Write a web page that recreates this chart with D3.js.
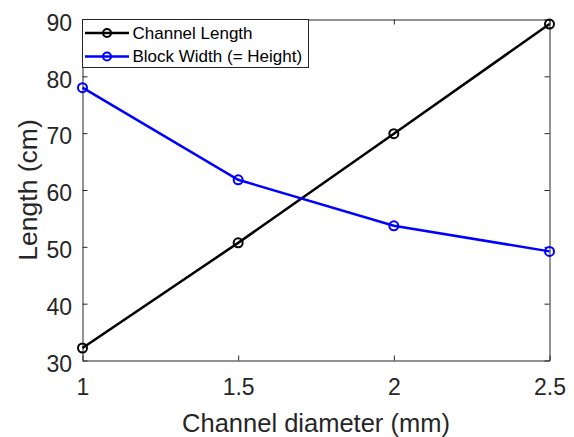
<!DOCTYPE html>
<html>
<head>
<meta charset="utf-8">
<script src="https://cdn.jsdelivr.net/npm/d3@7"></script>
<style>
html,body{margin:0;padding:0;background:#fff;}
svg{display:block;font-family:Arial,"Liberation Sans",sans-serif;}
</style>
</head>
<body>
<svg id="chart" width="574" height="437"></svg>
<script>
const diameters = [1, 1.5, 2, 2.5];
const channelLength = [32.2, 50.7, 69.9, 89.2];
const blockWidth = [78.0, 61.8, 53.7, 49.2];
const xTicks = [1, 1.5, 2, 2.5];
const yTicks = [30, 40, 50, 60, 70, 80, 90];
const seriesNames = ["Channel Length", "Block Width (= Height)"];
const seriesColors = ["#000000", "#0000ff"];

const svg = d3.select("#chart");
const m = {left: 82.5, right: 549.5, top: 19.5, bottom: 360.5};
const x = d3.scaleLinear().domain([1, 2.5]).range([m.left, m.right]);
const y = d3.scaleLinear().domain([30, 90]).range([m.bottom, m.top]);
const axisColor = "#262626";
const fontFam = "Arial, 'Liberation Sans', sans-serif";

// axes
const gx = svg.append("g").attr("transform", `translate(0,${m.bottom})`)
  .call(d3.axisBottom(x).tickValues(xTicks).tickSizeInner(-5).tickSizeOuter(0).tickFormat(d3.format("")));
const gxt = svg.append("g").attr("transform", `translate(0,${m.top})`)
  .call(d3.axisTop(x).tickValues(xTicks).tickSizeInner(-5).tickSizeOuter(0).tickFormat(""));
const gy = svg.append("g").attr("transform", `translate(${m.left},0)`)
  .call(d3.axisLeft(y).tickValues(yTicks).tickSizeInner(-5).tickSizeOuter(0));
const gyr = svg.append("g").attr("transform", `translate(${m.right},0)`)
  .call(d3.axisRight(y).tickValues(yTicks).tickSizeInner(-5).tickSizeOuter(0).tickFormat(""));
[gx, gxt, gy, gyr].forEach(g => {
  g.selectAll("path").attr("stroke", axisColor).attr("stroke-width", 1);
  g.selectAll("line").attr("stroke", axisColor).attr("stroke-width", 1);
  g.selectAll("text").attr("fill", axisColor).attr("font-size", 23).attr("font-family", fontFam);
});
gx.selectAll("text").attr("y", 34.5).attr("dy", 0);
gy.selectAll("text").attr("x", -10.5).attr("dy", 10.7);

// axis labels
svg.append("text").attr("x", (m.left + m.right) / 2).attr("y", 432)
  .attr("text-anchor", "middle").attr("font-size", 25.5).attr("fill", axisColor)
  .text("Channel diameter (mm)");
svg.append("text").attr("transform", `translate(37,${(m.top + m.bottom) / 2}) rotate(-90)`)
  .attr("text-anchor", "middle").attr("font-size", 26.5).attr("fill", axisColor)
  .text("Length (cm)");

// series
const series = [channelLength, blockWidth];
const line = d3.line().x((d, i) => x(diameters[i])).y(d => y(d));
series.forEach((vals, si) => {
  svg.append("path").datum(vals).attr("d", line)
    .attr("fill", "none").attr("stroke", seriesColors[si]).attr("stroke-width", 2.5);
  svg.selectAll(null).data(vals).enter().append("circle")
    .attr("cx", (d, i) => x(diameters[i])).attr("cy", d => y(d)).attr("r", 4.5)
    .attr("fill", "none").attr("stroke", seriesColors[si]).attr("stroke-width", 2);
});

// legend
const lg = svg.append("g");
lg.append("rect").attr("x", 82.5).attr("y", 19.5).attr("width", 226).attr("height", 48)
  .attr("fill", "#fff").attr("stroke", axisColor).attr("stroke-width", 1);
seriesNames.forEach((name, i) => {
  const cy = 33 + i * 23.5;
  lg.append("line").attr("x1", 85).attr("x2", 129).attr("y1", cy).attr("y2", cy)
    .attr("stroke", seriesColors[i]).attr("stroke-width", 2.5);
  lg.append("circle").attr("cx", 107).attr("cy", cy).attr("r", 4)
    .attr("fill", "none").attr("stroke", seriesColors[i]).attr("stroke-width", 2);
  lg.append("text").attr("x", 132.5).attr("y", cy).attr("dy", "0.35em")
    .attr("font-size", 17).attr("fill", "#000").text(name);
});
</script>
</body>
</html>
